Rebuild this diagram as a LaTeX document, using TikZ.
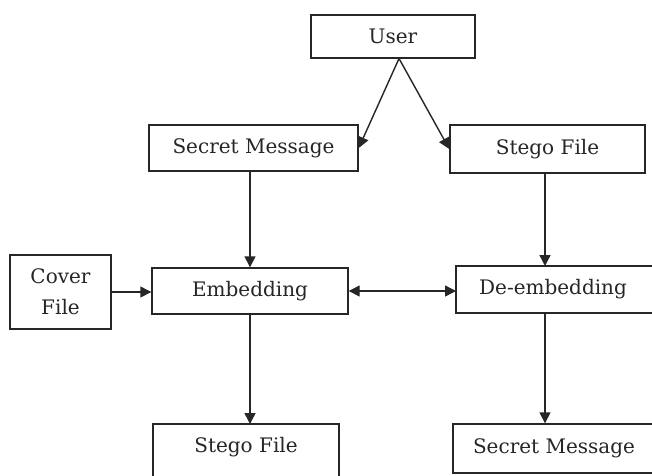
\documentclass[tikz,border=0pt]{standalone}
\usepackage{fontspec}
\setmainfont{DejaVu Serif}
\usetikzlibrary{arrows.meta}
\tikzset{
  box/.style={draw=black!85, line width=1.4pt, fill=white, inner sep=0pt,
    font=\fontsize{20}{24}\selectfont, text=black!85},
  lbl/.style={inner sep=0pt, font=\fontsize{20}{24}\selectfont, text=black!85},
  conn/.style={draw=black!85, line width=1.4pt, -{Triangle[length=11pt,width=11pt]}},
  dconn/.style={draw=black!85, line width=1.4pt, {Triangle[length=11pt,width=11pt]}-{Triangle[length=11pt,width=11pt]}}
}
\begin{document}
\begin{tikzpicture}[x=1pt,y=-1pt]
\useasboundingbox (0,0) rectangle (652,475);
\clip (0,0) rectangle (652,475);
\fill[white] (0,0) rectangle (652,475);
% boxes
\node[box, minimum width=164, minimum height=43] (user) at (393,36.5) {User};
\node[box, minimum width=209, minimum height=46] (sm1) at (253.5,148) {Secret Message};
\node[box, minimum width=195, minimum height=48] (sf1) at (547.5,149) {Stego File};
\node[box, minimum width=101, minimum height=74, align=center] (cover) at (60.5,292) {Cover\\[7pt]File};
\node[box, minimum width=196, minimum height=46] (emb) at (250,291) {Embedding};
\node[box, minimum width=214, minimum height=47, outer sep=0pt, anchor=north west] (deemb) at (456,266) {};
\node[lbl] (deembt) at (553,289.5) {De-embedding};
\node[box, minimum width=186, minimum height=60, outer sep=0pt, anchor=north west] (sf2) at (153,424) {};
\node[lbl] (sf2t) at (246,447) {Stego File};
\node[box, minimum width=202, minimum height=49] (sm2) at (554,448.5) {Secret Message};
% connectors
\coordinate (apex) at (399,58.5);
\coordinate (rx) at (545,0);
\draw[conn] (apex) -- (sm1.east);
\draw[conn] (apex) -- (sf1.west);
\draw[conn] (sm1.south -| emb.north) -- (emb.north);
\draw[conn] (rx |- sf1.south) -- (rx |- deemb.north);
\draw[conn] (cover.east) -- (cover.east -| emb.west);
\draw[dconn] (emb.east) -- (emb.east -| deemb.west);
\draw[conn] (emb.south) -- (emb.south |- sf2.north);
\draw[conn] (rx |- deemb.south) -- (rx |- sm2.north);
\end{tikzpicture}
\end{document}
